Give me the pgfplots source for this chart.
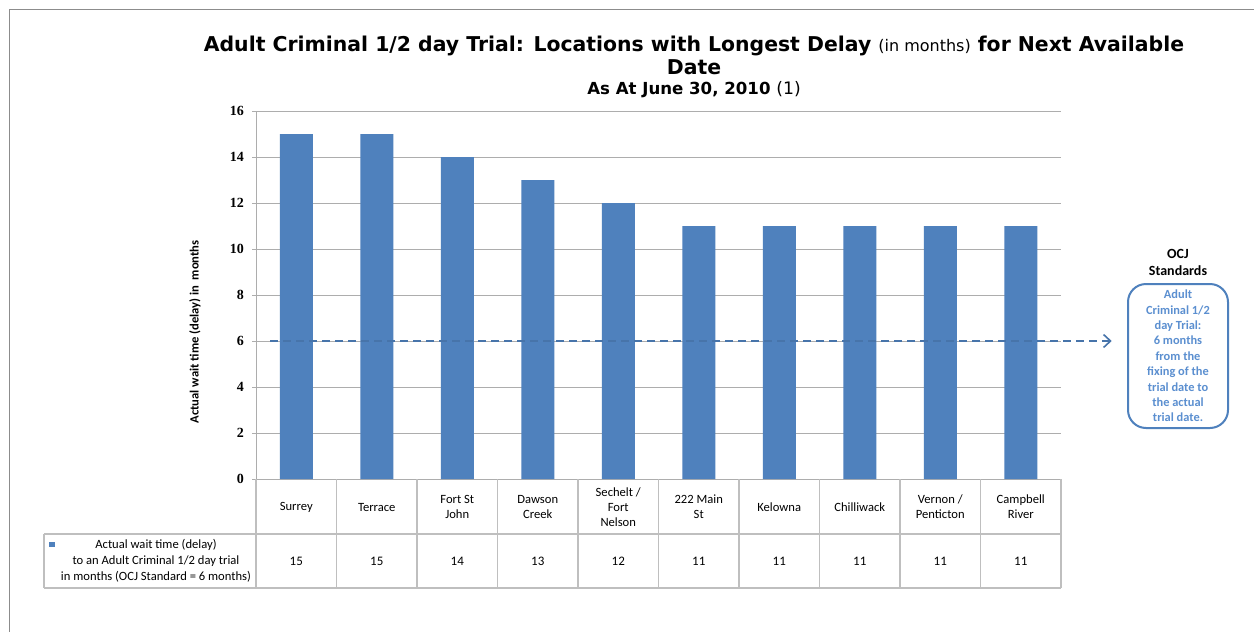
\documentclass[border=0pt]{standalone}
\usepackage{fontspec}
\setmainfont{Carlito}
\newfontfamily\titlefont{DejaVu Sans}
\newfontfamily\tickfont{Liberation Serif}
\usepackage{pgfplots}
\pgfplotsset{compat=1.18}
\usepackage{pgfplotstable}
\usetikzlibrary{arrows.meta}
\definecolor{barblue}{HTML}{4F81BD}
\definecolor{gridgray}{HTML}{ADADAD}
\definecolor{tablegray}{HTML}{BFBFBF}
\definecolor{framegray}{HTML}{8C8C8C}
\definecolor{boxblue}{HTML}{4F81BD}
\definecolor{boxtext}{HTML}{5B8FD0}
\pgfplotstableread{
x y
0 15
1 15
2 14
3 13
4 12
5 11
6 11
7 11
8 11
9 11
}\delaydata
\begin{document}
\begin{tikzpicture}
\useasboundingbox (0,0) rectangle (627pt,-316pt);
\fill[white] (0,0) rectangle (627pt,-316pt);
\begin{scope}[x=0.5pt,y=-0.5pt]
\draw[framegray, line width=0.7pt] (9.5,640) -- (9.5,9.5) -- (1260,9.5);
\node[anchor=base, font=\titlefont\bfseries\fontsize{10.2}{12}\selectfont, inner sep=0pt] at (694,51) {Adult Criminal 1/2 day Trial: Locations with Longest Delay {\mdseries\fontsize{8}{9}\selectfont (in months)} for Next Available};
\node[anchor=base, font=\titlefont\bfseries\fontsize{10.2}{12}\selectfont, inner sep=0pt] at (694,74) {Date};
\node[anchor=base, font=\titlefont\bfseries\fontsize{8.3}{10}\selectfont, inner sep=0pt] at (694,94) {As At June 30, 2010 {\mdseries\fontsize{8.6}{10}\selectfont (1)}};
\end{scope}
\begin{axis}[
  at={(128pt,-239.5pt)}, anchor=south west,
  scale only axis, width=402.5pt, height=184pt,
  xmin=-0.5, xmax=9.5, ymin=0, ymax=16,
  clip=false,
  axis lines=left,
  axis line style={-, draw=gridgray, line width=0.5pt},
  ytick={0,2,...,16},
  ymajorgrids, grid style={gridgray, line width=0.5pt},
  tick align=outside, major tick length=2pt,
  ytick style={draw=gridgray},
  xtick={0,...,9},
  xtick style={draw=none},
  xticklabels={Surrey, Terrace, {Fort St\\John}, {Dawson\\Creek}, {Sechelt /\\Fort\\Nelson}, {222 Main\\St}, Kelowna, Chilliwack, {Vernon /\\Penticton}, {Campbell\\River}},
  xticklabel style={anchor=center, yshift=-12pt, align=center, inner sep=0pt, font=\fontsize{6.3}{7.6}\selectfont},
  yticklabel style={font=\tickfont\bfseries\fontsize{7}{8}\selectfont, xshift=-0.5pt},
  /pgf/number format/assume math mode=true,
  ylabel={Actual wait time (delay) in\ \ months},
  ylabel style={at={(axis description cs:-0.0758,0.40)}, anchor=center, font=\bfseries\fontsize{6.3}{7.5}\selectfont},
]
\addplot[ybar, bar width=16.5pt, fill=barblue, draw=none] table[x=x, y=y] {\delaydata};
\addplot[draw=none, mark=none, nodes near coords, point meta=explicit,
  every node near coord/.style={anchor=center, inner sep=0pt, font=\fontsize{6.5}{8}\selectfont, black}]
  table[x=x, y expr=-3.565, meta=y] {\delaydata};
\addplot[barblue!90!black, line width=0.8pt, dash pattern=on 4pt off 2.5pt, -{Straight Barb[length=3.5pt, width=6.5pt]}] coordinates {(-0.326,6) (10.13,6)};
\end{axis}
\begin{scope}[x=0.5pt,y=-0.5pt]
\foreach \k in {0,...,10} \draw[tablegray, line width=0.6pt] ({256+80.5*\k},479) -- ({256+80.5*\k},588);
\draw[tablegray, line width=0.6pt] (44,534) -- (1061,534);
\draw[tablegray, line width=0.6pt] (44,588) -- (1061,588);
\draw[tablegray, line width=0.6pt] (44,534) -- (44,588);
\fill[barblue] (49,542) rectangle (55,547);
\node[align=center, font=\fontsize{6.3}{8}\selectfont, inner sep=0pt] at (156,560.5) {Actual wait time (delay)\\to an Adult Criminal 1/2 day trial\\in months (OCJ Standard = 6 months)};
\node[align=center, font=\bfseries\fontsize{7}{8.5}\selectfont, inner sep=0pt] at (1178,262) {OCJ\\Standards};
\draw[boxblue, line width=1pt, rounded corners=9pt] (1128,284) rectangle (1228,428);
\node[align=center, text=boxtext, font=\bfseries\fontsize{6.2}{7.7}\selectfont, inner sep=0pt] at (1178,356) {Adult\\Criminal 1/2\\day Trial:\\6 months\\from the\\fixing of the\\trial date to\\the actual\\trial date.};
\end{scope}
\end{tikzpicture}
\end{document}
